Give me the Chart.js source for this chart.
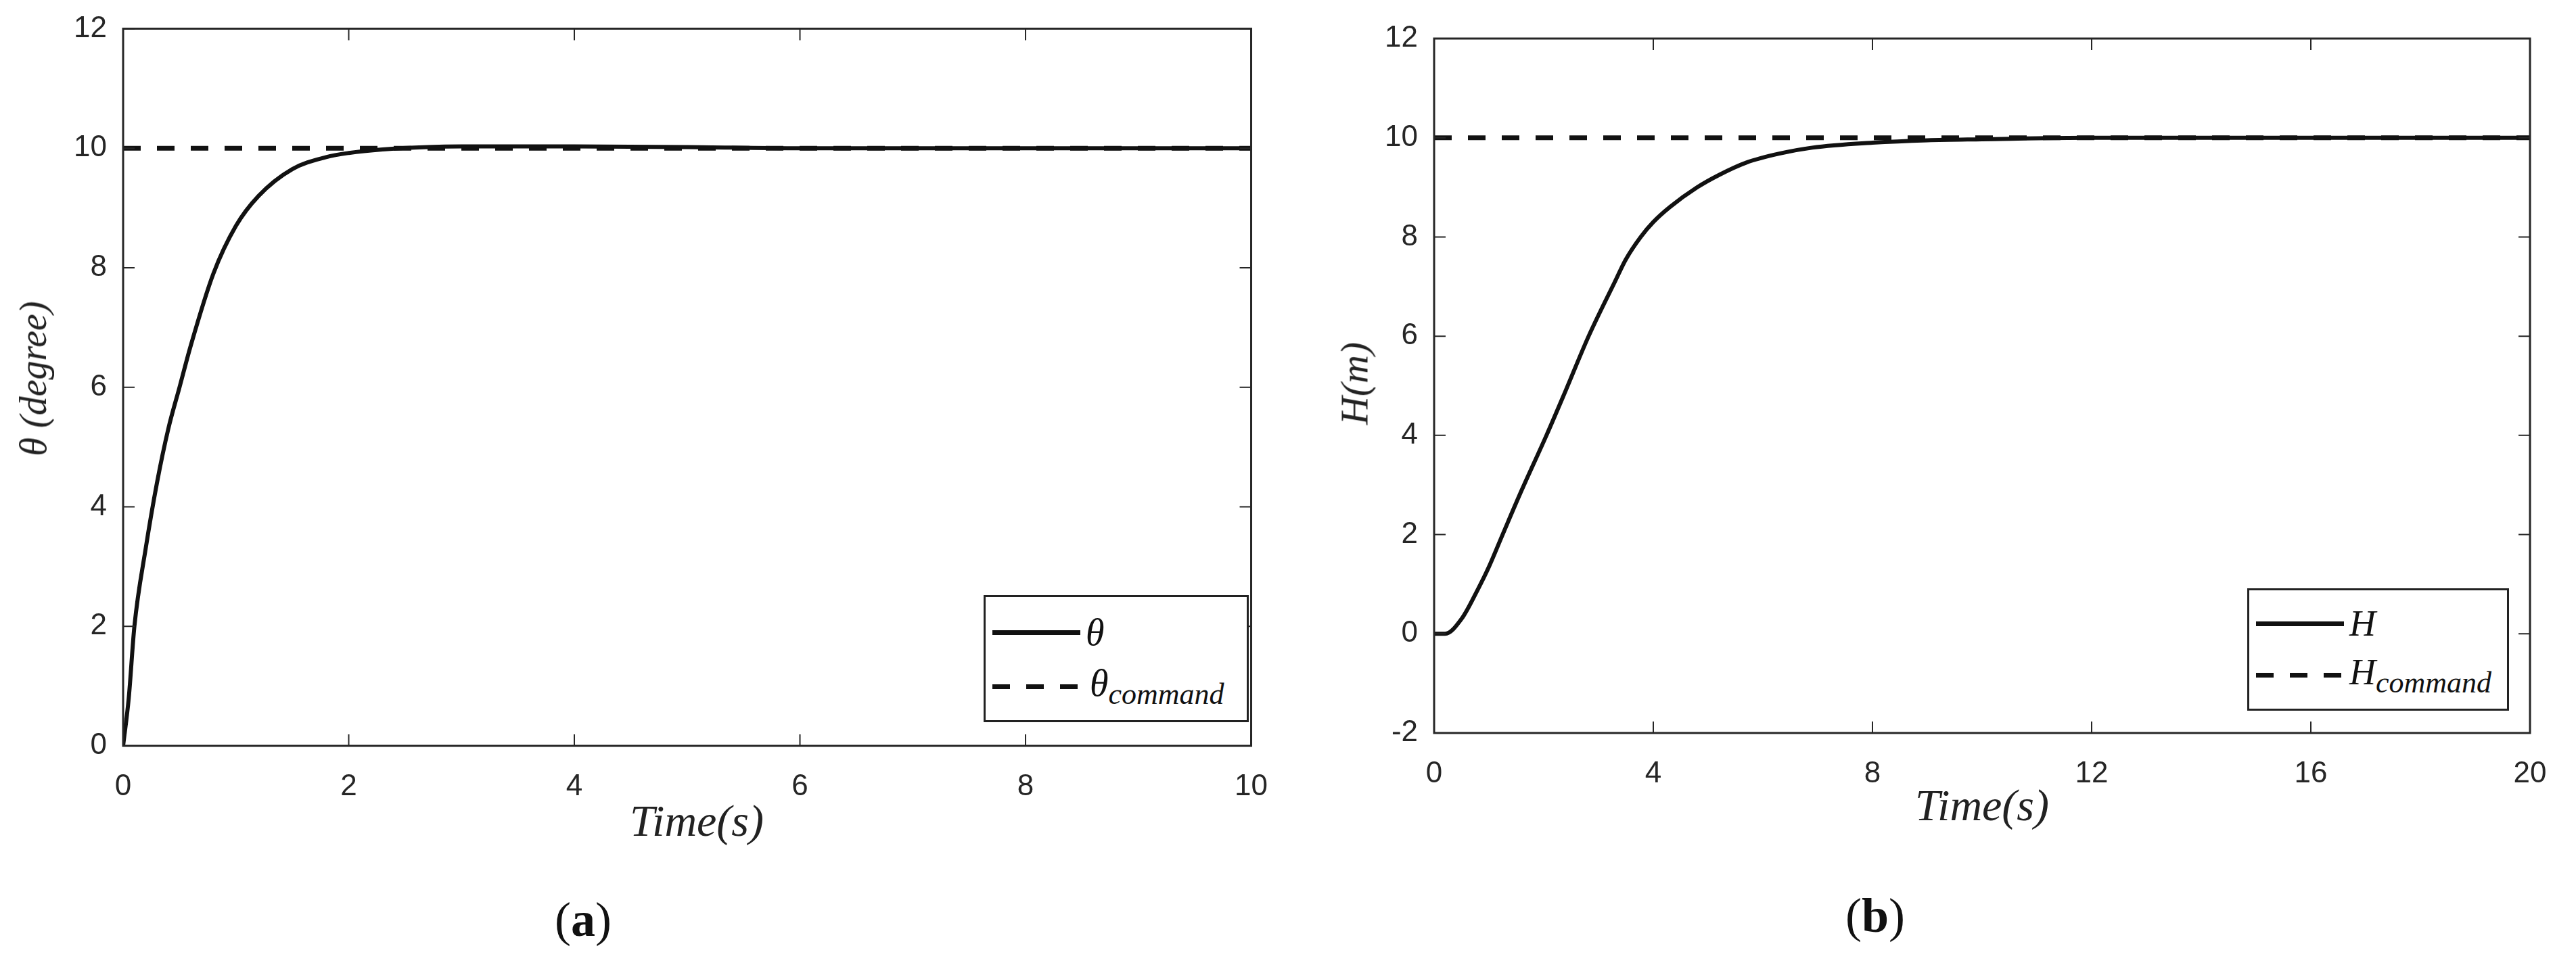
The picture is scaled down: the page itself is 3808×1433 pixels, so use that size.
<!DOCTYPE html>
<html><head><meta charset="utf-8">
<script src="https://cdn.jsdelivr.net/npm/chart.js@4"></script>
<style>
body{margin:0;background:#fff;width:3808px;height:1433px;position:relative;overflow:hidden;font-family:"Liberation Sans",Arial,sans-serif}
.box{position:absolute;top:0;height:1433px}
.t{position:absolute;font-family:"Liberation Serif","DejaVu Serif",serif;font-style:italic;color:#222;white-space:nowrap}
.leg{position:absolute;border:3px solid #222;background:#fff;font-family:"Liberation Serif",serif;font-style:italic;color:#111}
.row{position:absolute;left:10px;display:flex;align-items:center}
.sol{width:130px;height:0;border-top:7px solid #111}
.dsh{width:130px;height:7px;background:repeating-linear-gradient(90deg,#111 0 26px,transparent 26px 50px)}
.cap{position:absolute;font-family:"Liberation Serif",serif;font-size:72px;color:#111}
</style></head><body>
<div class="box" style="left:0;width:1900px"><canvas id="c1"></canvas></div>
<div class="box" style="left:1904px;width:1904px"><canvas id="c2"></canvas></div>

<div class="t" style="left:49px;top:560px;font-size:56px;transform:translate(-50%,-50%) rotate(-90deg)">θ (degree)</div>
<div class="t" style="left:1030px;top:1214px;font-size:66px;transform:translate(-50%,-50%)">Time(s)</div>
<div class="t" style="left:2002px;top:567px;font-size:58px;transform:translate(-50%,-50%) rotate(-90deg)">H(m)</div>
<div class="t" style="left:2930px;top:1191px;font-size:66px;transform:translate(-50%,-50%)">Time(s)</div>
<div class="cap" style="left:862px;top:1360px;transform:translate(-50%,-50%)">(<b>a</b>)</div>
<div class="cap" style="left:2772px;top:1354px;transform:translate(-50%,-50%)">(<b>b</b>)</div>

<div class="leg" style="left:1454px;top:880px;width:386px;height:182px">
 <div class="row" style="top:20px"><div class="sol"></div><span style="font-size:56px;margin-left:8px">θ</span></div>
 <div class="row" style="top:95px"><div class="dsh"></div><span style="font-size:56px;margin-left:14px">θ<sub style="font-size:44px">command</sub></span></div>
</div>
<div class="leg" style="left:3322px;top:870px;width:381px;height:175px">
 <div class="row" style="top:18px"><div class="sol"></div><span style="font-size:54px;margin-left:8px">H</span></div>
 <div class="row" style="top:90px"><div class="dsh"></div><span style="font-size:54px;margin-left:8px">H<sub style="font-size:44px">command</sub></span></div>
</div>

<script>
const thetaT = [0,0.05,0.1,0.2,0.3,0.4,0.5,0.6,0.8,1.0,1.2,1.5,1.8,2.0,2.3,2.7,3,4,5,6,8,10];
const thetaY = [0,0.8,2.0,3.3,4.4,5.3,6.0,6.7,7.9,8.7,9.2,9.65,9.85,9.92,9.98,10.02,10.03,10.03,10.02,10,10,10];
const thetaCmdT = [0,10];
const thetaCmdY = [10,10];
const hT = [0,0.2,0.5,0.8,1.0,1.25,1.6,2.05,2.4,2.82,3.3,3.5,3.77,4.0,4.3,4.8,5.2,5.7,6.3,6.9,8,9,10,12,16,20];
const hY = [0,0,0.3,0.9,1.35,2.0,2.9,4.0,4.9,6.0,7.1,7.55,8.0,8.3,8.6,9.0,9.25,9.5,9.68,9.8,9.9,9.95,9.97,10,10,10];
const hCmdT = [0,20];
const hCmdY = [10,10];
const xTicks1 = [0,2,4,6,8,10];
const yTicks1 = [0,2,4,6,8,10,12];
const xTicks2 = [0,4,8,12,16,20];
const yTicks2 = [-2,0,2,4,6,8,10,12];

const pts=(t,y)=>t.map((v,i)=>({x:v,y:y[i]}));
const boxPlugin={id:'box',afterDraw(c){
  const {ctx,chartArea:a,scales:{x,y}}=c;
  ctx.save();ctx.strokeStyle='#262626';ctx.lineWidth=3;
  ctx.strokeRect(a.left,a.top,a.right-a.left,a.bottom-a.top);
  ctx.lineWidth=2;const L=17;
  x.ticks.forEach(t=>{const p=x.getPixelForValue(t.value);ctx.beginPath();ctx.moveTo(p,a.bottom);ctx.lineTo(p,a.bottom-L);ctx.moveTo(p,a.top);ctx.lineTo(p,a.top+L);ctx.stroke();});
  y.ticks.forEach(t=>{const p=y.getPixelForValue(t.value);ctx.beginPath();ctx.moveTo(a.left,p);ctx.lineTo(a.left+L,p);ctx.moveTo(a.right,p);ctx.lineTo(a.right-L,p);ctx.stroke();});
  ctx.restore();}};

function make(id,sol,cmd,xmax,ymin,xt,yt,pad,yw,xh){
  const tickFont={family:'"Liberation Sans",Arial',size:44};
  new Chart(document.getElementById(id),{
    type:'line',
    data:{datasets:[
      {data:cmd,borderColor:'#111',borderWidth:7,borderDash:[26,24],pointRadius:0},
      {data:sol,borderColor:'#111',borderWidth:6,pointRadius:0,cubicInterpolationMode:'monotone'}
    ]},
    options:{responsive:true,maintainAspectRatio:false,animation:false,
      layout:{padding:pad},
      plugins:{legend:{display:false},tooltip:{enabled:false}},
      scales:{
        x:{type:'linear',min:0,max:xmax,afterBuildTicks:s=>{s.ticks=xt.map(v=>({value:v}))},
           grid:{display:false},border:{display:false},
           ticks:{font:tickFont,color:'#262626',padding:26,maxRotation:0},
           afterFit:s=>{s.height=xh}},
        y:{type:'linear',min:ymin,max:12,afterBuildTicks:s=>{s.ticks=yt.map(v=>({value:v}))},
           grid:{display:false},border:{display:false},
           ticks:{font:tickFont,color:'#262626',padding:16},
           afterFit:s=>{s.width=yw}}
      }},
    plugins:[boxPlugin]});
}
make('c1',pts(thetaT,thetaY),pts(thetaCmdT,thetaCmdY),10,0,xTicks1,yTicks1,{top:35,right:22,left:0,bottom:0},182,330);
make('c2',pts(hT,hY),pts(hCmdT,hCmdY),20,-2,xTicks2,yTicks2,{top:57,right:68,left:0,bottom:0},216,349);
</script>
</body></html>
